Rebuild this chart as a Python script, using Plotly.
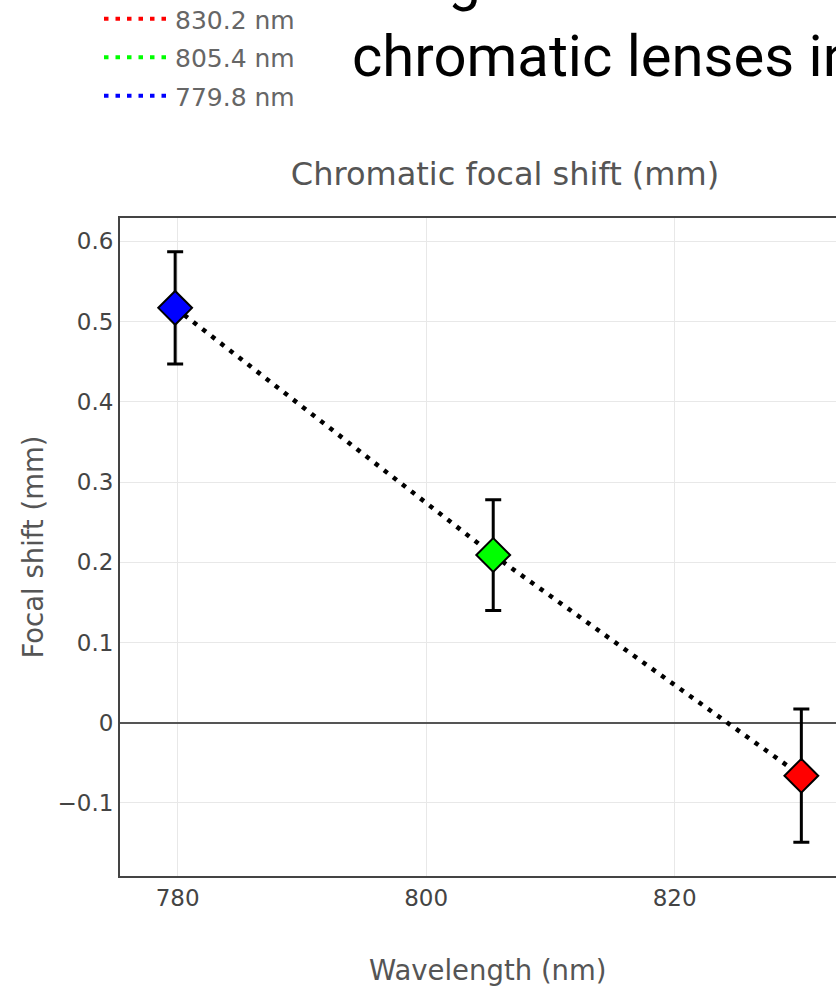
import plotly.graph_objects as go

# Measured focal shift at each laser wavelength
wavelengths = [779.8, 805.4, 830.2]
focal_shift = [0.517, 0.209, -0.066]
shift_error = [0.070, 0.069, 0.083]
point_colors = ["#0000ff", "#00ff00", "#ff0000"]
legend_labels = ["779.8 nm", "805.4 nm", "830.2 nm"]

x_ticks = [780, 800, 820]
y_ticks = [-0.1, 0, 0.1, 0.2, 0.3, 0.4, 0.5, 0.6]

chart_title = "Chromatic focal shift (mm)"
x_title = "Wavelength (nm)"
y_title = "Focal shift (mm)"
slide_lines = ["Longitudinal chromatic", "chromatic lenses in"]

FONT = "DejaVu Sans"
DOT = "4.5px,7px"

fig = go.Figure()

# dotted trend line joining the three measurements
fig.add_trace(go.Scatter(
    x=wavelengths, y=focal_shift, mode="lines",
    line=dict(color="black", width=4.5, dash=DOT),
    showlegend=False, hoverinfo="skip",
))

# one diamond with error bar per wavelength
for w, s, e, c in zip(wavelengths, focal_shift, shift_error, point_colors):
    fig.add_trace(go.Scatter(
        x=[w], y=[s], mode="markers",
        marker=dict(symbol="diamond", size=26, color=c,
                    line=dict(color="black", width=2)),
        error_y=dict(type="data", array=[e], color="black",
                     thickness=3, width=8),
        showlegend=False,
    ))

# legend entries (longest wavelength first)
for lab, c in reversed(list(zip(legend_labels, point_colors))):
    fig.add_trace(go.Scatter(
        x=[None], y=[None], mode="lines", name=lab, legendgroup=lab,
        line=dict(color=c, width=4, dash=DOT),
    ))

W, H = 836, 988
L, R, T, B = 120, 0, 218, 112
pw, ph = W - L - R, H - T - B


def px_x(px):
    return (px - L) / pw


def px_y(py):
    return (H - B - py) / ph


fig.update_layout(
    width=W, height=H,
    margin=dict(l=L, r=R, t=T, b=B, autoexpand=False),
    paper_bgcolor="white", plot_bgcolor="white",
    font=dict(family=FONT, color="#444"),
    title=dict(text=chart_title, xref="container", yref="container",
               x=505 / W, y=1 - 174 / H, xanchor="center", yanchor="middle",
               font=dict(family=FONT, size=32, color="#555")),
    legend=dict(x=px_x(99), y=px_y(-4), xanchor="left", yanchor="top",
                font=dict(family=FONT, size=25, color="#666"),
                bgcolor="rgba(0,0,0,0)", itemwidth=66, tracegroupgap=3),
    xaxis=dict(range=[775.36, 832.99], tickvals=x_ticks, automargin=False,
               showgrid=True, gridcolor="#e8e8e8", gridwidth=1,
               showline=True, linecolor="#444", linewidth=2, mirror=True,
               zeroline=False, ticks="",
               tickfont=dict(family=FONT, size=23, color="#444")),
    yaxis=dict(range=[-0.191, 0.629], tickvals=y_ticks, automargin=False,
               showgrid=True, gridcolor="#e8e8e8", gridwidth=1,
               showline=True, linecolor="#444", linewidth=2, mirror=False,
               zeroline=True, zerolinecolor="#555", zerolinewidth=2,
               ticks="",
               tickfont=dict(family=FONT, size=23, color="#444"),
               title=dict(text=y_title, standoff=6,
                          font=dict(family=FONT, size=27.5, color="#555"))),
    showlegend=True,
)

annotations = [
    dict(text=x_title, xref="paper", yref="paper", x=px_x(488), y=px_y(970),
         xanchor="center", yanchor="middle", showarrow=False,
         font=dict(family=FONT, size=27.5, color="#555")),
    dict(text=slide_lines[0], xref="paper", yref="paper", x=px_x(350),
         y=px_y(-21), xanchor="left", yanchor="middle", showarrow=False,
         font=dict(family="Roboto", size=58, color="black")),
    dict(text=slide_lines[1], xref="paper", yref="paper", x=px_x(350),
         y=px_y(56), xanchor="left", yanchor="middle", showarrow=False,
         font=dict(family="Roboto", size=58, color="black")),
]
fig.update_layout(annotations=annotations)

fig.write_html("out.html")
